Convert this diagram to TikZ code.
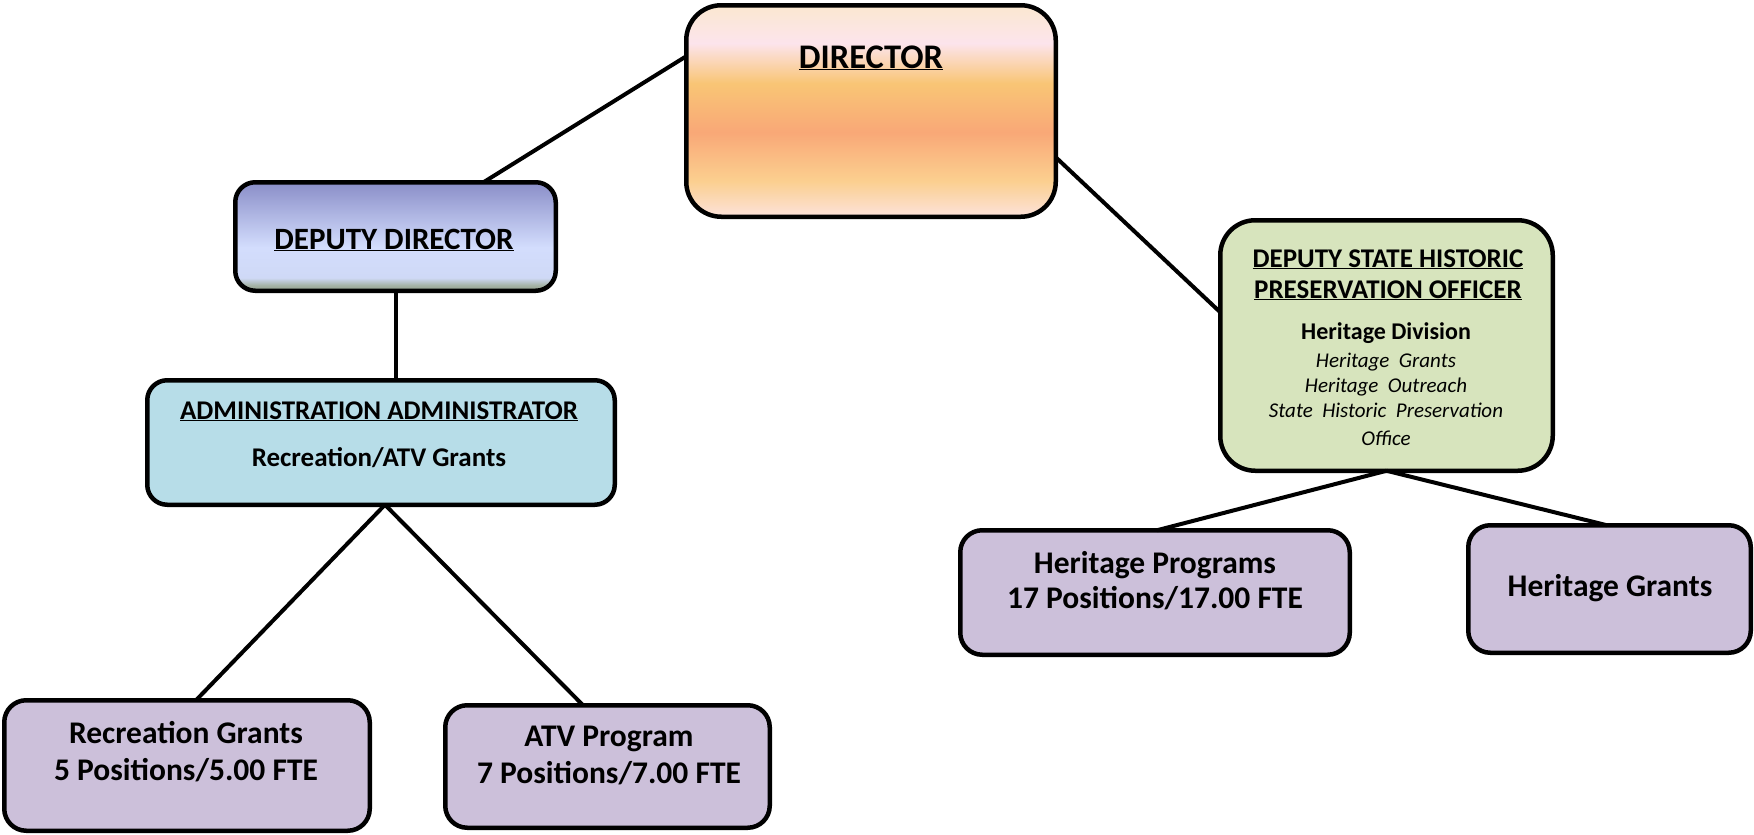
\documentclass[tikz,border=0pt]{standalone}
\usepackage{fontspec}
\setmainfont{Carlito}
\usetikzlibrary{calc}
\definecolor{dA}{HTML}{FCE2DA}
\definecolor{dB}{HTML}{FBCF8F}
\definecolor{dC}{HTML}{F9A877}
\definecolor{dD}{HTML}{F9C575}
\definecolor{dE}{HTML}{FCE4EC}
\definecolor{dF}{HTML}{FBE8D0}
\definecolor{pA}{HTML}{93A08F}
\definecolor{pB}{HTML}{A4B2A5}
\definecolor{pC}{HTML}{CFD9F6}
\definecolor{pD}{HTML}{D3DDFD}
\definecolor{pE}{HTML}{8A8EC8}
\definecolor{admfill}{HTML}{B7DDE8}
\definecolor{dshfill}{HTML}{D7E4BD}
\definecolor{lavfill}{HTML}{CCC0DA}
\pgfdeclareverticalshading{dirshade}{100bp}{color(0bp)=(dA); color(25bp)=(dA); color(33.5bp)=(dB); color(45bp)=(dC); color(56.5bp)=(dD); color(66bp)=(dE); color(75bp)=(dF); color(100bp)=(dF)}
\pgfdeclareverticalshading{depshade}{100bp}{color(0bp)=(pA); color(25bp)=(pA); color(27.5bp)=(pB); color(31bp)=(pC); color(45bp)=(pD); color(75bp)=(pE); color(100bp)=(pE)}
\tikzset{
  box/.style={draw=black, line width=4.5pt, rounded corners=20pt, inner sep=0pt, outer sep=0pt},
  wire/.style={draw=black, line width=4pt},
  txt/.style={anchor=base, inner sep=0pt, outer sep=0pt, text=black},
}
\newcommand{\fs}[1]{\fontsize{#1}{#1}\selectfont}
\begin{document}
\begin{tikzpicture}[x=1pt, y=-1pt]
\useasboundingbox (0,0) rectangle (1754,835);
% boxes
\node[box, rounded corners=35pt, shading=dirshade, minimum width=369.5pt, minimum height=211.5pt] (dir) at (871,111) {};
\node[box, shading=depshade, minimum width=320.5pt, minimum height=108.5pt] (dep) at (395.5,236.5) {};
\node[box, fill=admfill, minimum width=467.5pt, minimum height=124.5pt] (adm) at (381,442.5) {};
\node[box, rounded corners=35pt, fill=dshfill, minimum width=332.5pt, minimum height=250.5pt] (dsh) at (1386.5,345.5) {};
\node[box, rounded corners=22pt, fill=lavfill, minimum width=365.5pt, minimum height=130.5pt] (rec) at (187,765.5) {};
\node[box, rounded corners=22pt, fill=lavfill, minimum width=324.5pt, minimum height=122.5pt] (atv) at (607.5,766.5) {};
\node[box, rounded corners=22pt, fill=lavfill, minimum width=389.5pt, minimum height=124.5pt] (hp) at (1155,592.5) {};
\node[box, rounded corners=22pt, fill=lavfill, minimum width=282.5pt, minimum height=127.5pt] (hg) at (1609.5,589) {};
% connectors
\draw[wire] ($(dir.north west)+(0,51)$) -- ($(dep.north)+(88,0)$);
\draw[wire] (dep.south) -- (dep.south |- adm.north);
\draw[wire] ($(adm.south)+(4,0)$) -- ($(rec.north)+(9,0)$);
\draw[wire] ($(adm.south)+(4,0)$) -- ($(atv.north)+(-24.5,0)$);
\draw[wire] ($(dir.north east)+(0,152)$) -- ($(dsh.north west)+(0,92)$);
\draw[wire] (dsh.south) -- ($(hp.north)+(2,0)$);
\draw[wire] (dsh.south) -- ($(hg.north)+(-2.5,0)$);
% texts
\node[txt, font=\fs{34.5}\bfseries] (tdir) at (871,68) {\underline{DIRECTOR}};
\node[txt, font=\fs{31}\bfseries] (tdep) at (394,249) {\underline{DEPUTY DIRECTOR}};
\node[txt, font=\fs{27}\bfseries] (tadm1) at (379,419) {\underline{ADMINISTRATION ADMINISTRATOR}};
\node[txt, font=\fs{27}\bfseries] (tadm2) at (379,466) {Recreation/ATV Grants};
\node[txt, font=\fs{27}\bfseries] (tdsh1) at (1388,267) {\underline{DEPUTY STATE HISTORIC}};
\node[txt, font=\fs{27}\bfseries] (tdsh2) at (1388,298) {\underline{PRESERVATION OFFICER}};
\node[txt, font=\fs{24}\bfseries] (tdsh3) at (1386,339) {Heritage Division};
\node[txt, font=\fs{21}\itshape] (tdsh4) at (1386,367) {Heritage\ \ Grants};
\node[txt, font=\fs{21}\itshape] (tdsh5) at (1386,392) {Heritage\ \ Outreach};
\node[txt, font=\fs{21}\itshape] (tdsh6) at (1386,417) {State\ \ Historic\ \ Preservation};
\node[txt, font=\fs{21}\itshape] (tdsh7) at (1386,445) {Office};
\node[txt, font=\fs{31.5}\bfseries] (trec1) at (186,743) {Recreation Grants};
\node[txt, font=\fs{31.5}\bfseries] (trec2) at (186,780) {5 Positions/5.00 FTE};
\node[txt, font=\fs{31.5}\bfseries] (tatv1) at (609,746) {ATV Program};
\node[txt, font=\fs{31.5}\bfseries] (tatv2) at (609,783) {7 Positions/7.00 FTE};
\node[txt, font=\fs{31.5}\bfseries] (thp1) at (1155,573) {Heritage Programs};
\node[txt, font=\fs{31.5}\bfseries] (thp2) at (1155,608) {17 Positions/17.00 FTE};
\node[txt, font=\fs{31.5}\bfseries] (thg) at (1610,596) {Heritage Grants};
\end{tikzpicture}
\end{document}
